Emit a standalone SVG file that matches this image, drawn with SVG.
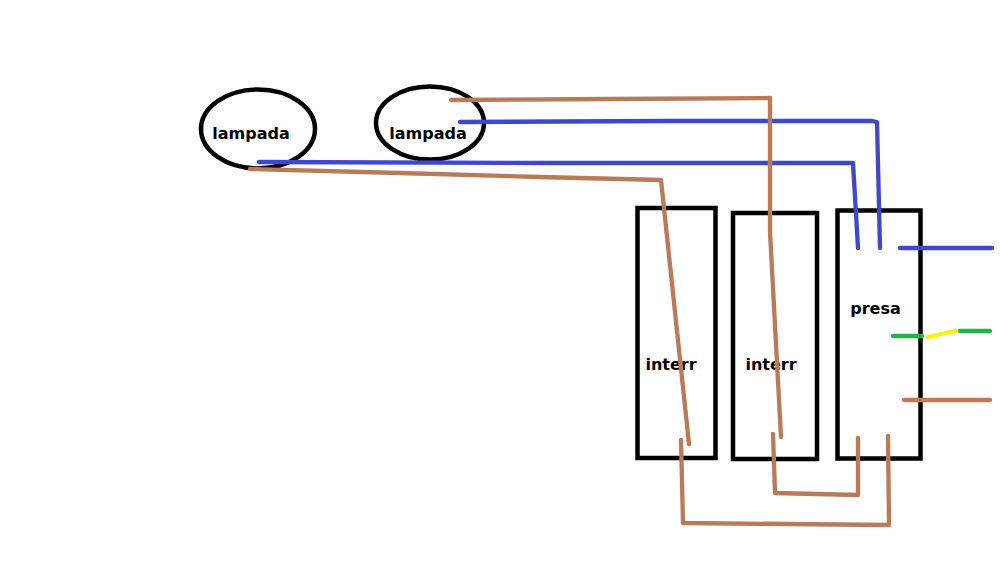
<svg xmlns="http://www.w3.org/2000/svg" width="1000" height="563" viewBox="0 0 1000 563">
<style>
.n{fill:none;stroke:#000;stroke-width:4.500}
.t{font-family:"DejaVu Sans",Verdana,sans-serif;font-weight:bold;font-size:16px;fill:#000;text-anchor:middle}
.w{fill:none;stroke-width:4.300;stroke-linecap:round;stroke-linejoin:round}
.b{stroke:#3f48cc}.r{stroke:#b97a57}.g{stroke:#22b14c}.y{stroke:#fff200}
</style>
<rect width="1000" height="563" fill="#fff"/>
<g id="lampada1"><ellipse class="n" cx="258" cy="129" rx="57" ry="39.500"/><text class="t" x="251" y="139">lampada</text></g>
<g id="lampada2"><ellipse class="n" cx="430" cy="123" rx="54" ry="36.500"/><text class="t" x="428" y="139">lampada</text></g>
<g id="interr1"><rect class="n" x="637.500" y="208" width="78" height="250"/><text class="t" x="671" y="370">interr</text></g>
<g id="interr2"><rect class="n" x="733" y="213" width="84" height="246"/><text class="t" x="771" y="370">interr</text></g>
<g id="presa"><rect class="n" x="837.500" y="210.500" width="83" height="248"/><text class="t" x="875.500" y="314">presa</text></g>
<g id="connectors">
<polyline class="w b" points="259,162 555,163 853,163 858,248"/>
<polyline class="w b" points="460,122 665,121 872,121 877,122 880,248"/>
<line class="w b" x1="900" y1="248" x2="992" y2="248"/>
<polyline class="w r" points="250,169 400,173 540,177 661,180 689,444"/>
<polyline class="w r" points="451,100 610,99 770,98 770,232 781,437"/>
<polyline class="w r" points="773,434 775,493 858,495 858,438"/>
<polyline class="w r" points="681,440 683,523 889,525 888,436"/>
<line class="w r" x1="904" y1="400" x2="990" y2="400"/>
<line class="w g" x1="893" y1="336" x2="922" y2="336"/>
<line class="w y" x1="928" y1="337" x2="955" y2="331"/>
<line class="w g" x1="960" y1="331" x2="990" y2="331"/>
</g>
</svg>
